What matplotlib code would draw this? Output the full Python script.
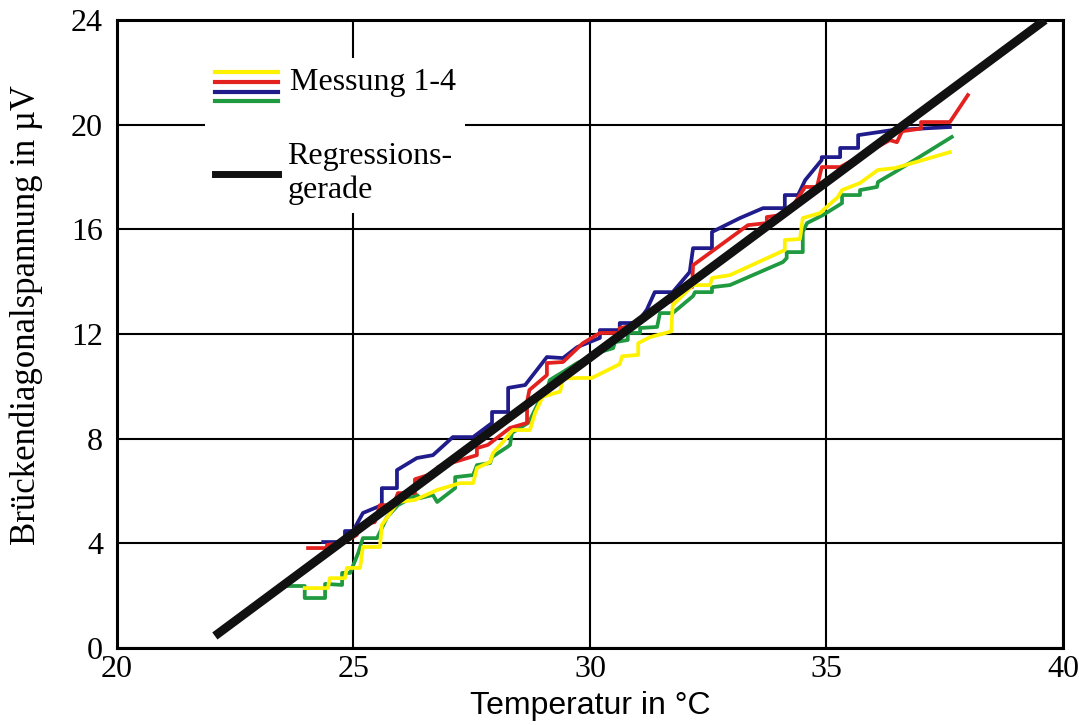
import matplotlib
matplotlib.use("Agg")
from matplotlib import pyplot as plt
from matplotlib.patches import Rectangle

# Messung 1 (gelb)
yellow_x = [23.97, 24.46, 24.50, 24.82, 24.86, 25.14, 25.20, 25.56, 25.60, 25.94, 26.30, 26.77, 27.25, 27.53,
            27.61, 27.89, 27.95, 28.14, 28.37, 28.73, 28.84, 29.00, 29.37, 29.43, 29.79, 30.04, 30.63, 30.68,
            31.02, 31.02, 31.27, 31.72, 31.75, 32.18, 32.54, 32.58, 32.96, 34.12, 34.12, 34.44, 34.50, 34.86,
            35.24, 35.33, 35.71, 36.09, 36.45, 37.61]
yellow_y = [2.29, 2.29, 2.67, 2.67, 3.06, 3.06, 3.86, 3.86, 4.70, 5.58, 5.66, 6.04, 6.30, 6.30,
            6.88, 7.11, 7.45, 7.83, 8.33, 8.33, 8.98, 9.60, 9.80, 10.30, 10.32, 10.32, 10.85, 11.15,
            11.20, 11.65, 11.88, 12.10, 13.10, 13.87, 13.87, 14.14, 14.25, 15.21, 15.59, 15.63, 16.43, 16.62,
            17.23, 17.50, 17.77, 18.27, 18.34, 18.95]

# Messung 2 (rot)
red_x = [24.04, 24.44, 24.44, 24.78, 25.07, 25.14, 25.45, 25.56, 25.84, 25.94, 26.30, 26.30, 26.72, 26.79,
         27.61, 27.61, 27.84, 28.31, 28.67, 28.67, 28.72, 29.09, 29.09, 29.43, 29.85, 30.21, 30.63, 30.63,
         30.99, 31.20, 31.42, 31.72, 31.97, 32.16, 32.18, 33.34, 33.74, 33.74, 34.05, 34.27, 34.55, 34.80,
         34.90, 35.29, 36.34, 36.49, 36.60, 37.00, 37.00, 37.61, 37.99]
red_y = [3.82, 3.82, 3.94, 4.01, 4.32, 4.70, 4.81, 5.46, 5.46, 5.92, 5.92, 6.45, 6.69, 6.92,
         7.37, 7.64, 7.76, 8.41, 8.60, 9.40, 9.86, 10.43, 10.89, 10.93, 11.65, 12.04, 12.04, 12.23,
         12.34, 12.62, 13.10, 13.25, 13.79, 13.79, 14.63, 16.16, 16.24, 16.47, 16.55, 16.85, 17.62, 17.62,
         18.38, 18.38, 19.41, 19.33, 19.75, 19.85, 20.10, 20.10, 21.13]

# Messung 3 (blau)
blue_x = [24.36, 24.82, 24.82, 24.99, 25.20, 25.60, 25.60, 25.92, 25.92, 26.34, 26.68, 26.87, 27.10, 27.53,
          27.93, 27.93, 28.27, 28.27, 28.63, 29.09, 29.43, 29.73, 30.21, 30.21, 30.63, 30.63, 30.99, 31.20,
          31.37, 31.75, 32.11, 32.18, 32.58, 32.58, 33.17, 33.66, 34.12, 34.12, 34.40, 34.55, 34.90, 34.90,
          35.29, 35.29, 35.67, 35.67, 36.38, 37.61]
blue_y = [4.05, 4.05, 4.47, 4.47, 5.16, 5.46, 6.11, 6.11, 6.80, 7.26, 7.37, 7.68, 8.06, 8.06,
          8.60, 9.02, 9.02, 9.94, 10.05, 11.12, 11.08, 11.50, 11.85, 12.15, 12.15, 12.42, 12.42, 12.92,
          13.60, 13.60, 14.37, 15.28, 15.28, 15.90, 16.43, 16.81, 16.81, 17.31, 17.31, 17.88, 18.65, 18.76,
          18.76, 19.11, 19.11, 19.60, 19.79, 19.91]

# Messung 4 (gruen)
green_x = [23.59, 23.97, 23.97, 24.40, 24.40, 24.76, 24.76, 24.93, 25.10, 25.20, 25.50, 25.71, 25.94, 26.34,
           26.41, 26.68, 26.77, 27.15, 27.15, 27.53, 27.61, 27.89, 27.93, 28.25, 28.31, 28.35, 28.69, 28.73,
           28.94, 29.09, 29.15, 29.43, 29.73, 30.21, 30.49, 30.53, 30.80, 30.80, 31.06, 31.06, 31.42, 31.48,
           31.75, 32.18, 32.22, 32.58, 32.58, 32.96, 34.08, 34.16, 34.16, 34.50, 34.50, 34.59, 34.93, 35.33,
           35.33, 35.71, 35.71, 36.07, 36.09, 36.45, 37.65]
green_y = [2.37, 2.37, 1.91, 1.91, 2.45, 2.41, 2.87, 2.87, 3.63, 4.20, 4.20, 5.00, 5.46, 5.85,
           5.73, 5.85, 5.58, 6.11, 6.53, 6.61, 6.99, 7.07, 7.30, 7.68, 7.76, 8.22, 8.60, 8.71,
           9.48, 9.86, 10.24, 10.55, 10.89, 11.31, 11.46, 11.69, 11.77, 12.04, 12.04, 12.23, 12.27, 12.80,
           12.80, 13.45, 13.60, 13.60, 13.79, 13.87, 14.75, 14.90, 15.13, 15.13, 15.90, 16.24, 16.55, 17.00,
           17.31, 17.31, 17.50, 17.62, 17.81, 18.19, 19.53]

# Regressionsgerade
reg_x = [22.07, 39.62]
reg_y = [0.46, 24.0]

x_ticks = [20, 25, 30, 35, 40]
y_ticks = [0, 4, 8, 12, 16, 20, 24]

c_yellow = "#fff200"
c_red = "#e3211e"
c_blue = "#201c8c"
c_green = "#1f9a40"

serif = ["Liberation Serif", "DejaVu Serif"]

fig = plt.figure(figsize=(10.79, 7.25), dpi=100)
ax = fig.add_axes([0.1084, 0.1062, 0.8767, 0.8662])

ax.plot(green_x, green_y, color=c_green, lw=2.7, zorder=3)
ax.plot(blue_x, blue_y, color=c_blue, lw=2.7, zorder=3)
ax.plot(red_x, red_y, color=c_red, lw=2.7, zorder=3)
ax.plot(yellow_x, yellow_y, color=c_yellow, lw=2.7, zorder=3)
ax.plot(reg_x, reg_y, color="#111111", lw=6.3, solid_capstyle="butt", zorder=4)

ax.set_xlim(20, 40)
ax.set_ylim(0, 24)
ax.set_xticks(x_ticks)
ax.set_yticks(y_ticks)
ax.grid(True, color="black", lw=1.5)
for sp in ax.spines.values():
    sp.set_linewidth(2.2)
ax.tick_params(length=0, labelsize=23)
ax.tick_params(axis="y", pad=10)
ax.tick_params(axis="x", pad=5)
for lab in ax.get_xticklabels() + ax.get_yticklabels():
    lab.set_family(serif)

ax.set_xlabel("Temperatur in °C", fontsize=23, family=["Liberation Sans", "DejaVu Sans"])
ax.xaxis.set_label_coords(0.5, -0.068)
ax.set_ylabel("Brückendiagonalspannung in µV", fontsize=25, family=serif)
ax.yaxis.set_label_coords(-0.078, 0.53)

# legend box (hand made, like the original)
ax.add_patch(Rectangle((0.093, 0.693), 0.275, 0.246, transform=ax.transAxes,
                       facecolor="white", edgecolor="none", zorder=2))
lx = [0.1036, 0.170]
for yy, col in zip([0.917, 0.901, 0.886, 0.871], [c_yellow, c_red, c_blue, c_green]):
    ax.plot(lx, [yy, yy], color=col, lw=3, transform=ax.transAxes, zorder=5)
ax.plot(lx, [0.755, 0.755], color="#111111", lw=5, transform=ax.transAxes, zorder=5)
ax.text(0.183, 0.900, "Messung 1-4", transform=ax.transAxes, fontsize=23,
        family=serif, va="center", ha="left", zorder=5)
ax.text(0.180, 0.755, "Regressions-\ngerade", transform=ax.transAxes, fontsize=23,
        family=serif, va="center", ha="left", linespacing=1.2, zorder=5)

fig.savefig("out.png", dpi=100)
